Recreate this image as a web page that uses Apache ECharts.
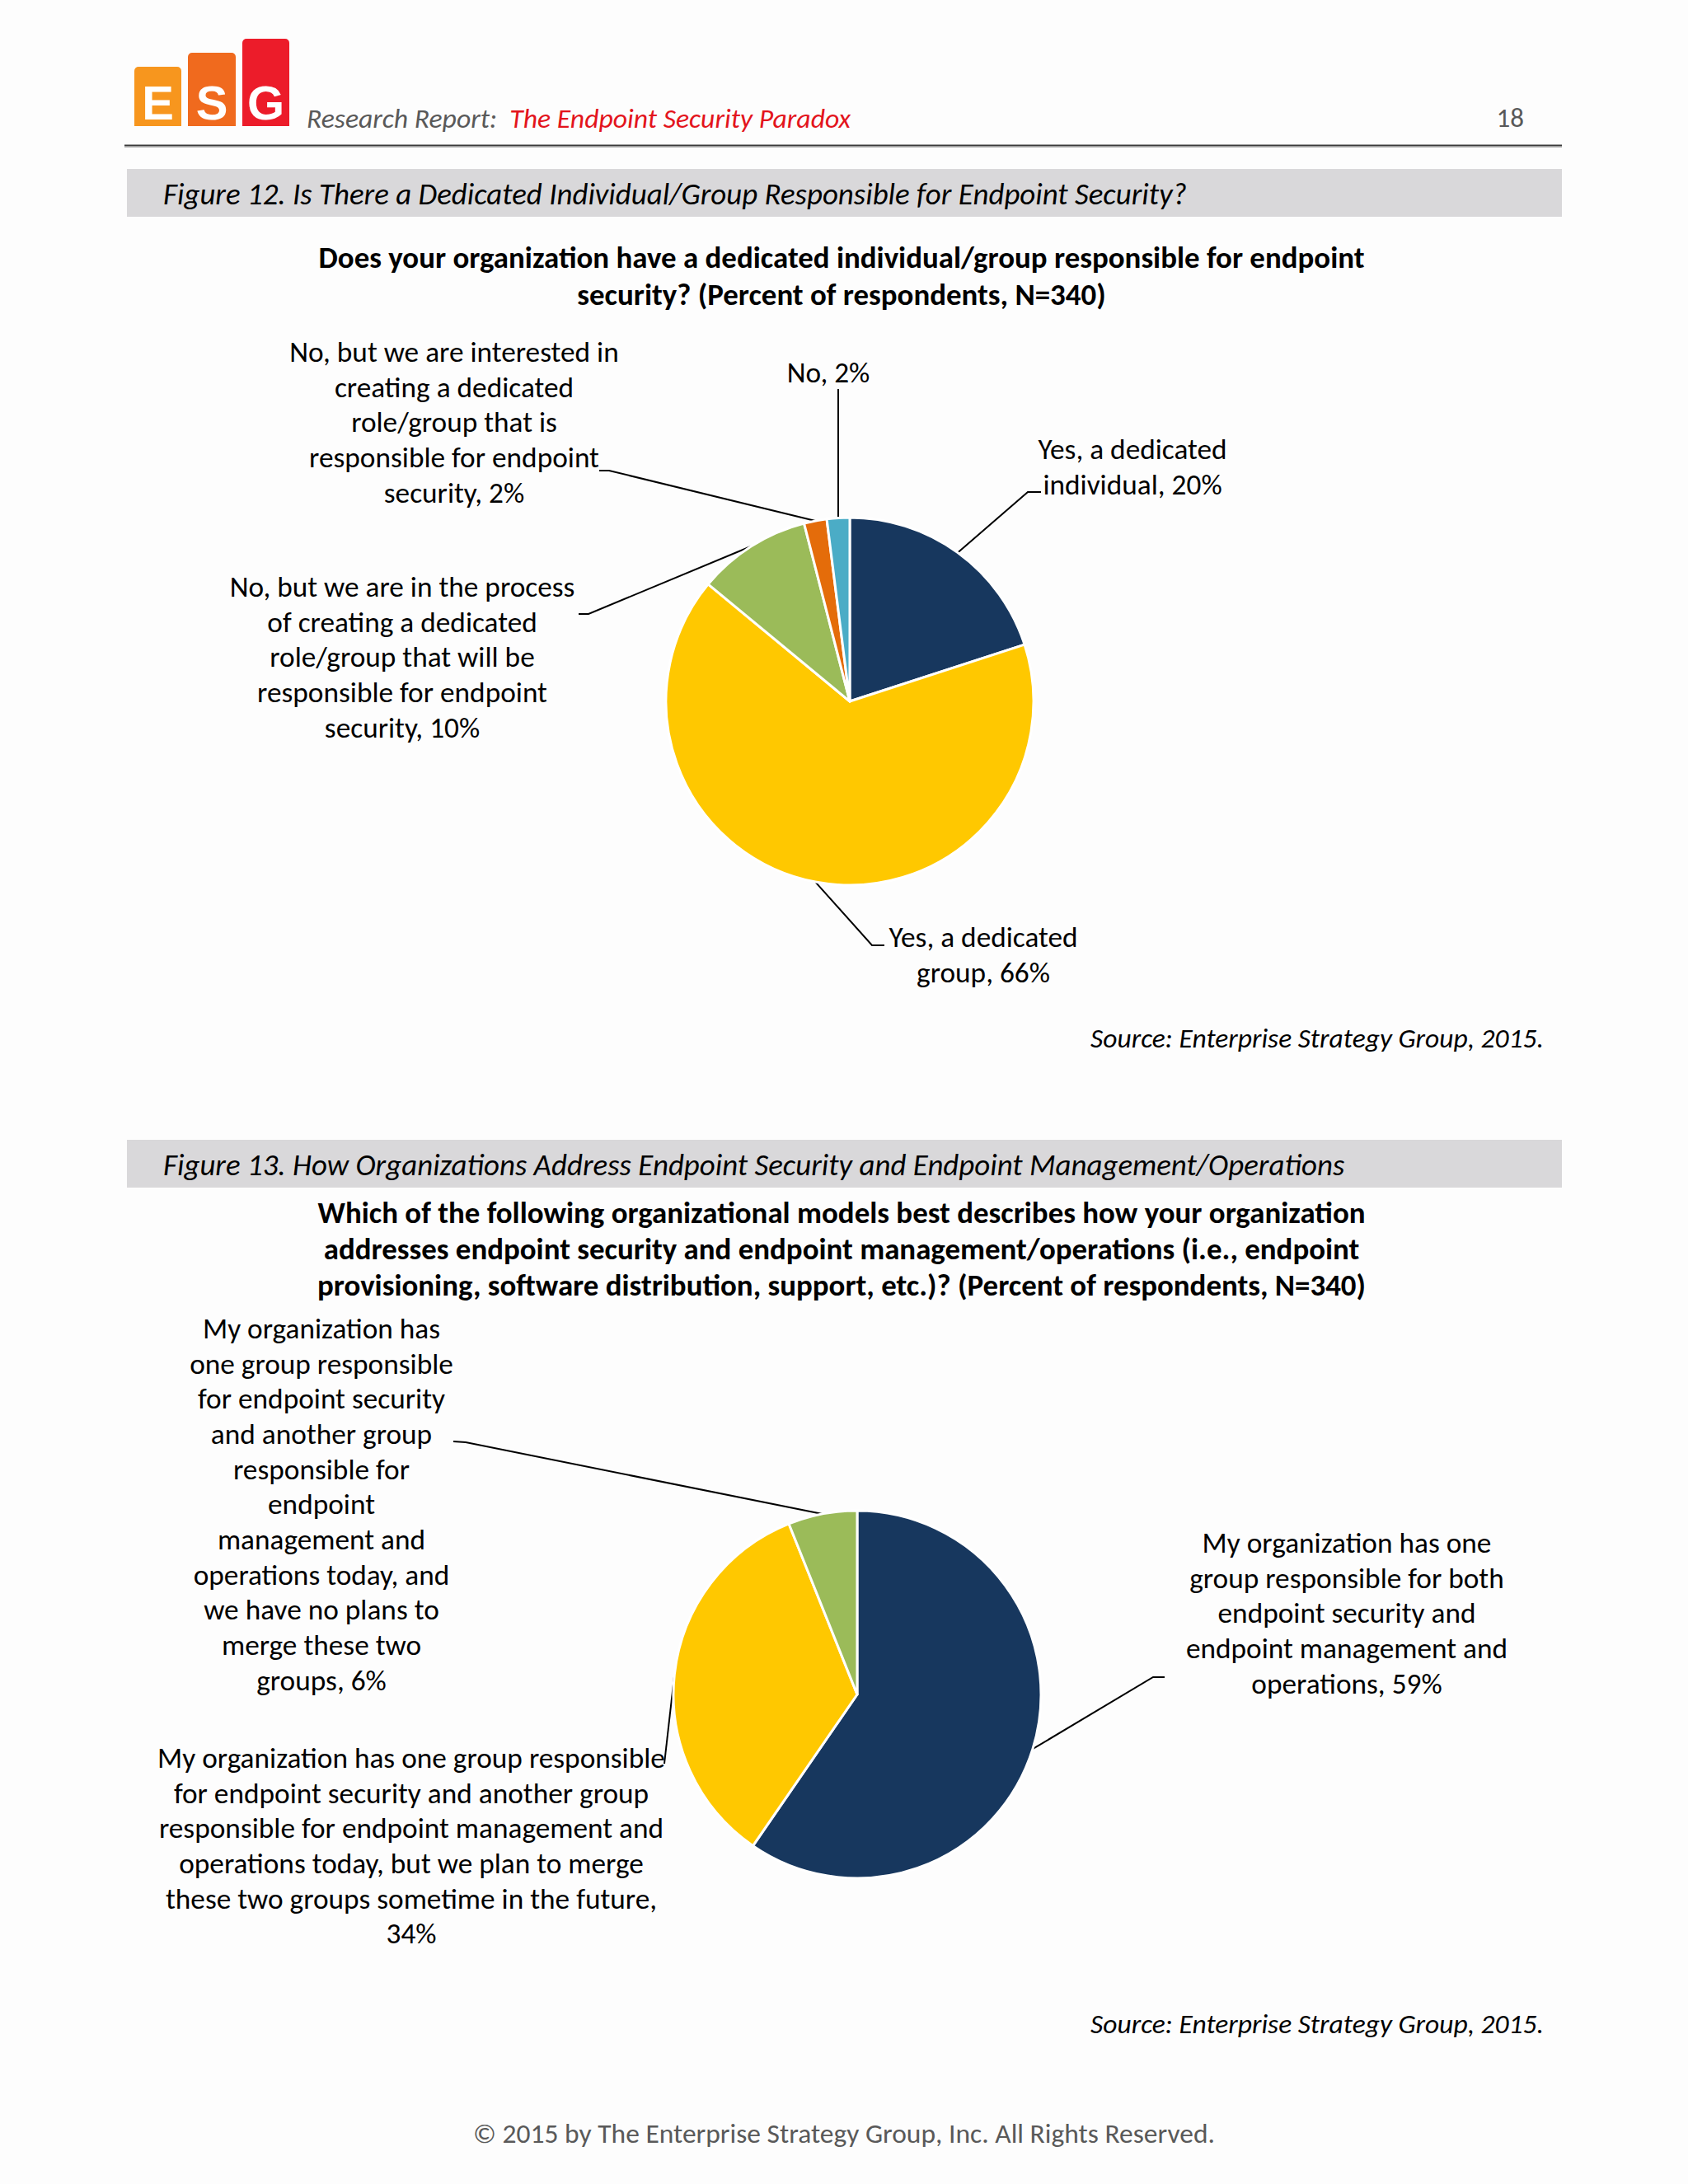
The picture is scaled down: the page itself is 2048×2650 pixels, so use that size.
<!DOCTYPE html>
<html>
<head>
<meta charset="utf-8">
<script src="https://cdn.jsdelivr.net/npm/echarts@6/dist/echarts.min.js"></script>
<style>
html,body{margin:0;padding:0;background:#fdfdfd;}
#chart{width:2048px;height:2650px;}
</style>
</head>
<body>
<div id="chart"></div>
<script>
// ---------- DATA ----------
const fig12Categories = [
  'Yes, a dedicated\nindividual',
  'Yes, a dedicated\ngroup',
  'No, but we are in the process\nof creating a dedicated\nrole/group that will be\nresponsible for endpoint\nsecurity',
  'No, but we are interested in\ncreating a dedicated\nrole/group that is\nresponsible for endpoint\nsecurity',
  'No'
];
const fig12Values = [20, 66, 10, 2, 2];

const fig13Categories = [
  'My organization has one\ngroup responsible for both\nendpoint security and\nendpoint management and\noperations',
  'My organization has one group responsible\nfor endpoint security and another group\nresponsible for endpoint management and\noperations today, but we plan to merge\nthese two groups sometime in the future',
  'My organization has\none group responsible\nfor endpoint security\nand another group\nresponsible for\nendpoint\nmanagement and\noperations today, and\nwe have no plans to\nmerge these two\ngroups'
];
const fig13Values = [59, 34, 6];
const fig13ValueOnNewLine = [false, true, false];

// ---------- STYLE ----------
const FONT = 'Carlito, Lato, sans-serif';
const sliceColors12 = ['#17375E', '#FFC800', '#9BBB59', '#E46C0A', '#4BACC6'];
const sliceColors13 = ['#17375E', '#FFC800', '#9BBB59'];

// label placement (layout only): text anchor + leader elbow/end
const fig12LabelPlace = [
  {x: 1374, y: 523, elbow: [1247, 597], end: [1263, 597]},
  {x: 1193, y: 1115, elbow: [1058, 1147], end: [1073, 1147]},
  {x: 488, y: 690, elbow: [714, 745], end: [702, 745]},
  {x: 551, y: 405, elbow: [739, 571], end: [727, 571]},
  {x: 1005, y: 430, elbow: [1017, 472], end: [1017, 472]}
];
const fig13LabelPlace = [
  {x: 1634, y: 1850, elbow: [1399, 2035], end: [1413, 2035]},
  {x: 499, y: 2111, elbow: [806, 2140], end: [806, 2140]},
  {x: 390, y: 1590, elbow: [565, 1750], end: [550, 1749]}
];

const chart = echarts.init(document.getElementById('chart'), null, {renderer: 'svg'});

function makeLayout(place) {
  return function (params) {
    const p = place[params.dataIndex];
    const start = params.labelLinePoints ? params.labelLinePoints[0] : p.elbow;
    return {
      x: p.x, y: p.y, align: 'center', verticalAlign: 'top',
      labelLinePoints: [start, p.elbow, p.end]
    };
  };
}

const labelBase = {
  show: true, position: 'outside', color: '#000', fontFamily: FONT,
  fontSize: 35.3, lineHeight: 42.7, align: 'center'
};

function txt(text, x, y, o) {
  return Object.assign({
    type: 'text', x: x, y: y,
    style: Object.assign({text: text, fill: '#000', fontFamily: FONT, fontSize: 30,
      align: 'left', verticalAlign: 'middle'}, o || {})
  });
}

const graphics = [
  // logo
  {type: 'rect', shape: {x: 163, y: 81, width: 57, height: 72, r: [5, 5, 0, 0]}, style: {fill: '#F7961E'}},
  {type: 'rect', shape: {x: 228, y: 64, width: 58, height: 89, r: [5, 5, 0, 0]}, style: {fill: '#F06A1E'}},
  {type: 'rect', shape: {x: 294, y: 47, width: 57, height: 106, r: [5, 5, 0, 0]}, style: {fill: '#EC1C2A'}},
  txt('E', 191.5, 124, {fill: '#fff', fontFamily: 'Liberation Sans', fontWeight: 'bold', fontSize: 58, align: 'center'}),
  txt('S', 257, 124, {fill: '#fff', fontFamily: 'Liberation Sans', fontWeight: 'bold', fontSize: 58, align: 'center'}),
  txt('G', 322.5, 124, {fill: '#fff', fontFamily: 'Liberation Sans', fontWeight: 'bold', fontSize: 58, align: 'center'}),
  // header text
  {type: 'text', x: 372, y: 143, style: {
    text: '{g|Research Report:  }{r|The Endpoint Security Paradox}', verticalAlign: 'middle',
    rich: {
      g: {fill: '#595959', fontFamily: FONT, fontStyle: 'italic', fontSize: 33.7},
      r: {fill: '#E3141C', fontFamily: FONT, fontStyle: 'italic', fontSize: 33.7}
    }
  }},
  txt('18', 1849, 143, {fill: '#595959', align: 'right', fontSize: 33}),
  {type: 'line', shape: {x1: 151, y1: 176.5, x2: 1895, y2: 176.5}, style: {stroke: '#3a3a3a', lineWidth: 2}},
  {type: 'line', shape: {x1: 151, y1: 178.5, x2: 1895, y2: 178.5}, style: {stroke: '#b0b0b0', lineWidth: 1}},
  // figure 12 bar
  {type: 'rect', shape: {x: 154, y: 205, width: 1741, height: 58}, style: {fill: '#D9D8DA'}},
  txt('Figure 12. Is There a Dedicated Individual/Group Responsible for Endpoint Security?', 198, 235, {fontStyle: 'italic', fontSize: 36.9}),
  txt('Does your organization have a dedicated individual/group responsible for endpoint\nsecurity? (Percent of respondents, N=340)', 1021, 335,
      {fontWeight: 'bold', fontSize: 36.9, align: 'center', lineHeight: 45}),
  txt('Source: Enterprise Strategy Group, 2015.', 1873, 1259, {fontStyle: 'italic', fontSize: 33.5, align: 'right'}),
  // figure 13 bar
  {type: 'rect', shape: {x: 154, y: 1383, width: 1741, height: 58}, style: {fill: '#D9D8DA'}},
  txt('Figure 13. How Organizations Address Endpoint Security and Endpoint Management/Operations', 198, 1413, {fontStyle: 'italic', fontSize: 36.9}),
  txt('Which of the following organizational models best describes how your organization\naddresses endpoint security and endpoint management/operations (i.e., endpoint\nprovisioning, software distribution, support, etc.)? (Percent of respondents, N=340)', 1021, 1515,
      {fontWeight: 'bold', fontSize: 36.9, align: 'center', lineHeight: 44}),
  txt('Source: Enterprise Strategy Group, 2015.', 1873, 2455, {fontStyle: 'italic', fontSize: 33.5, align: 'right'}),
  txt('\u00A9 2015 by The Enterprise Strategy Group, Inc. All Rights Reserved.', 1024, 2588, {fill: '#595959', fontSize: 33.5, align: 'center'})
];

const option = {
  backgroundColor: '#fdfdfd',
  animation: false,
  graphic: graphics,
  series: [
    {
      type: 'pie', center: [1031, 851], radius: 223, startAngle: 90, clockwise: true,
      avoidLabelOverlap: false,
      data: fig12Categories.map((n, i) => ({name: n, value: fig12Values[i], itemStyle: {color: sliceColors12[i]}})),
      itemStyle: {borderColor: '#fff', borderWidth: 3},
      label: Object.assign({}, labelBase, {formatter: p => p.name + ', ' + p.value + '%'}),
      labelLine: {show: true, length: 20, length2: 10, lineStyle: {color: '#000', width: 2}},
      labelLayout: makeLayout(fig12LabelPlace),
      emphasis: {disabled: true}
    },
    {
      type: 'pie', center: [1040, 2056], radius: 223, startAngle: 90, clockwise: true,
      avoidLabelOverlap: false,
      data: fig13Categories.map((n, i) => ({name: n, value: fig13Values[i], itemStyle: {color: sliceColors13[i]}})),
      itemStyle: {borderColor: '#fff', borderWidth: 3},
      label: Object.assign({}, labelBase, {formatter: p => p.name + ',' + (fig13ValueOnNewLine[p.dataIndex] ? '\n' : ' ') + p.value + '%'}),
      labelLine: {show: true, length: 20, length2: 10, lineStyle: {color: '#000', width: 2}},
      labelLayout: makeLayout(fig13LabelPlace),
      emphasis: {disabled: true}
    }
  ]
};
chart.setOption(option);
</script>
</body>
</html>
